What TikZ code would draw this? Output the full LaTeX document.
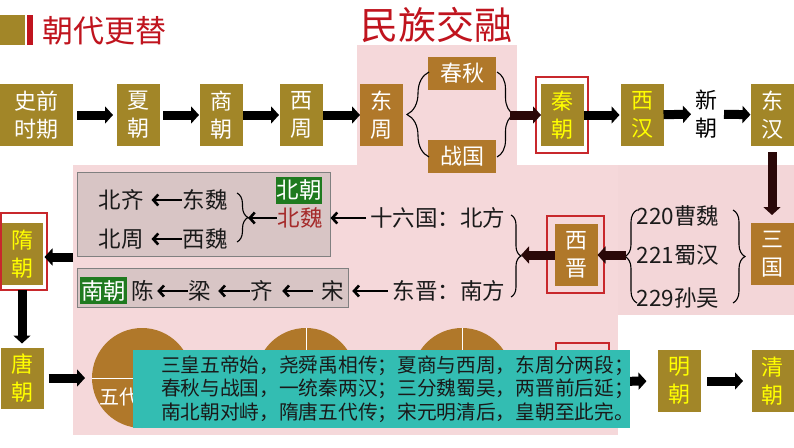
\documentclass[tikz,border=0pt]{standalone}
\usepackage{fontspec}
\setmainfont{Noto Sans CJK SC}
\usetikzlibrary{arrows.meta,decorations.pathreplacing}
\definecolor{cOlive}{HTML}{A28628}
\definecolor{cBrown}{HTML}{B0782A}
\definecolor{cYellow}{HTML}{FFFF00}
\definecolor{cRed}{HTML}{C0141E}
\definecolor{cFrame}{HTML}{C8282C}
\definecolor{cPink}{HTML}{F5D8DA}
\definecolor{cPinkB}{HTML}{F3D6D8}
\definecolor{cGrayBox}{HTML}{D8C5C5}
\definecolor{cGrayLine}{HTML}{808080}
\definecolor{cGreen}{HTML}{1F7A1F}
\definecolor{cDarkRed}{HTML}{A52A2A}
\definecolor{cTeal}{HTML}{33BDB2}
\definecolor{cDark}{HTML}{2A0808}
\definecolor{cText}{HTML}{1A1A1A}
\newcommand\myboxfont{\fontsize{22}{28}\selectfont}
\newcommand\mytxtfont{\fontsize{22.5}{28}\selectfont}
\begin{document}
\begin{tikzpicture}[x=1pt,y=-1pt,
  every node/.style={inner sep=0pt, outer sep=0pt},
  obox/.style={fill=cOlive, minimum width=43pt, minimum height=62pt, align=center, font=\myboxfont, text=white},
  bbox/.style={obox, fill=cBrown},
  ybox/.style={obox, text=cYellow},
  redframe/.style={draw=cFrame, line width=1.3pt},
  graybox/.style={fill=cGrayBox, draw=cGrayLine, line width=1pt},
  greenbox/.style={fill=cGreen, text=white, minimum height=27pt, minimum width=46pt, font=\mytxtfont},
  gtxt/.style={text=cText, font=\mytxtfont},
  bigarrow/.style={line width=9pt, -{Triangle[length=8pt,width=17pt]}, draw=black},
  darrow/.style={bigarrow, draw=cDark},
  thinarrow/.style={line width=2.6pt, -{Straight Barb[length=5pt,width=11pt]}, draw=black},
  bracedraw/.style={decorate, decoration={brace, amplitude=#1}, line width=1.1pt, draw=black},
]
\useasboundingbox (0,0) rectangle (794,447);
\fill[white] (0,0) rectangle (794,447);
% pink backgrounds
\fill[cPink] (357,45) rectangle (517,165);
\fill[cPink] (73,165) rectangle (618,435);
\fill[cPinkB] (618,165) rectangle (794,315);
% titles
\fill[cOlive] (0,15) rectangle (25,45);
\fill[cRed] (27,15) rectangle (33,45);
\node[anchor=west, text=cRed, font=\fontsize{31}{31}\selectfont] (title) at (42,31) {朝代更替};
\node[text=cRed, font=\fontsize{38}{38}\selectfont] (title2) at (436,25) {民族交融};
% top row
\node[obox, minimum width=73pt] (shiqian) at (36.5,115) {史前\\时期};
\node[obox] (xia) at (138.5,115) {夏\\朝};
\node[obox] (shang) at (221.5,115) {商\\朝};
\node[obox] (xizhou) at (301.5,115) {西\\周};
\node[bbox] (dongzhou) at (381.5,115) {东\\周};
\node[bbox, minimum width=68pt, minimum height=33pt] (chunqiu) at (462,73.5) {春秋};
\node[bbox, minimum width=68pt, minimum height=33pt] (zhanguo) at (462,156.5) {战国};
\node[redframe, minimum width=52pt, minimum height=76pt] (qinf) at (562,115) {};
\node[ybox] (qin) at (562.5,115) {秦\\朝};
\node[ybox] (xihan) at (642,115) {西\\汉};
\node[align=center, font=\myboxfont, text=black] (xin) at (706,114) {新\\朝};
\node[obox] (donghan) at (772,115) {东\\汉};
\draw[bigarrow, shorten <=4pt, shorten >=4pt] (shiqian) -- (xia);
\draw[bigarrow, shorten <=3pt, shorten >=1pt] (xia) -- (shang);
\draw[bigarrow, shorten >=1pt] (shang) -- (xizhou);
\draw[bigarrow] (xizhou) -- (dongzhou);
\draw[bracedraw=22pt] (429,157) -- (429,72);
\draw[bracedraw=17pt] (497,72) -- (497,157);
\coordinate (b2tip) at (510,115);
\draw[darrow] (b2tip) -- (qin);
\draw[bigarrow, shorten >=1pt] (qin) -- (xihan);
\draw[bigarrow, shorten >=4pt] (xihan) -- (xin);
\draw[bigarrow, shorten <=7pt] (xin) -- (donghan);
% three kingdoms
\node[bbox] (sanguo) at (772,254) {三\\国};
\draw[bigarrow, draw=cDark, shorten <=6pt, shorten >=8pt] (donghan) -- (sanguo);
\node[gtxt] (wei) at (678,216) {220曹魏};
\node[gtxt] (shu) at (678,255) {221蜀汉};
\node[gtxt] (wu) at (678,298) {229孙吴};
\draw[bracedraw=12pt] (733,210) -- (733,303);
\draw[bracedraw=12pt] (637,303) -- (637,210);
\coordinate (b3tip) at (626,255);
\node[redframe, minimum width=57pt, minimum height=77pt] (xijinf) at (575.5,254.5) {};
\node[bbox] (xijin) at (576,255) {西\\晋};
\draw[darrow] (b3tip) -- (xijin);
\coordinate (b4tip) at (521,255);
\draw[darrow] (xijin) -- (b4tip);
\draw[bracedraw=10pt] (511,215) -- (511,297);
\node[gtxt, anchor=east] (shiliu) at (505,218) {十六国：北方};
\node[gtxt, anchor=east] (dongjin) at (505,291) {东晋：南方};
% northern dynasties
\node[graybox, minimum width=253pt, minimum height=84pt] (nbox) at (203.5,214) {};
\node[greenbox] (beichao) at (299,190) {北朝};
\node[gtxt, text=cDarkRed] (beiwei) at (300,218) {北魏};
\draw[thinarrow, shorten <=4pt, shorten >=8pt] (shiliu) -- (beiwei);
\draw[bracedraw=11pt] (237,193) -- (237,242);
\coordinate (b5tip) at (248,218);
\draw[thinarrow, shorten <=1pt] (beiwei) -- (b5tip);
\node[gtxt] (dongwei) at (205,200) {东魏};
\node[gtxt] (beiqi) at (121,200) {北齐};
\node[gtxt] (xiwei) at (205,239) {西魏};
\node[gtxt] (beizhou) at (121,239) {北周};
\draw[thinarrow, shorten <=1pt, shorten >=8pt] (dongwei) -- (beiqi);
\draw[thinarrow, shorten <=1pt, shorten >=8pt] (xiwei) -- (beizhou);
% southern dynasties
\node[graybox, minimum width=271pt, minimum height=39pt] (sbox) at (212.5,287.5) {};
\node[greenbox, minimum width=47pt] (nanchao) at (103.5,290.5) {南朝};
\node[gtxt] (chen) at (142.5,291) {陈};
\node[gtxt] (liang) at (200,291) {梁};
\node[gtxt] (qi) at (262,291) {齐};
\node[gtxt] (song) at (332.5,291) {宋};
\draw[thinarrow, shorten <=1pt, shorten >=3.5pt] (liang) -- (chen);
\draw[thinarrow, shorten <=1pt, shorten >=7pt] (qi) -- (liang);
\draw[thinarrow, shorten <=8.5pt, shorten >=9pt] (song) -- (qi);
\draw[thinarrow, shorten <=5pt, shorten >=8.5pt] (dongjin) -- (song);
% sui, tang
\node[redframe, minimum width=46pt, minimum height=77pt] (suif) at (24,251.5) {};
\node[ybox, minimum width=41pt] (sui) at (22,254) {隋\\朝};
\coordinate (nb) at (73,257);
\draw[bigarrow, shorten >=2pt] (nb) -- (nb -| sui.east);
\node[ybox, minimum height=61pt] (tang) at (22,378) {唐\\朝};
\draw[bigarrow, shorten <=5pt, shorten >=4pt] (sui) -- (tang);
% circles
\node[circle, fill=cBrown, minimum size=100pt] (c1) at (142,378) {};
\draw[white, line width=1pt] (c1.west) -- (c1.east);
\node[text=white, font=\fontsize{20}{20}\selectfont] (wudai) at (119,397) {五代};
\node[circle, fill=cBrown, minimum size=100pt] (c2) at (306,378) {};
\draw[white, line width=1pt] (c2.north) -- (c2.south);
\node[circle, fill=cBrown, minimum size=100pt] (c3) at (462,378) {};
\draw[white, line width=1pt] (c3.north) -- (c3.south);
\draw[bigarrow, shorten <=5pt, shorten >=7pt] (tang) -- (c1);
\node[redframe, minimum width=53pt, minimum height=77pt] (songf) at (582.5,381.5) {};
% ming, qing
\node[ybox] (ming) at (679,381) {明\\朝};
\node[ybox, minimum width=42pt] (qing) at (772.5,381) {清\\朝};
\draw[bigarrow, shorten >=11pt] (songf) -- (ming);
\draw[bigarrow, shorten <=6.5pt, shorten >=8.5pt] (ming) -- (qing);
% poem box
\node[fill=cTeal, minimum width=497pt, minimum height=78pt] (poembox) at (381.5,389) {};
\node[anchor=west, align=left, text=cText, font=\fontsize{19.7}{23.5}\selectfont] (poem) at (161,389) {三皇五帝始，尧舜禹相传；夏商与西周，东周分两段；\\春秋与战国，一统秦两汉；三分魏蜀吴，两晋前后延；\\南北朝对峙，隋唐五代传；宋元明清后，皇朝至此完。};
\end{tikzpicture}
\end{document}
